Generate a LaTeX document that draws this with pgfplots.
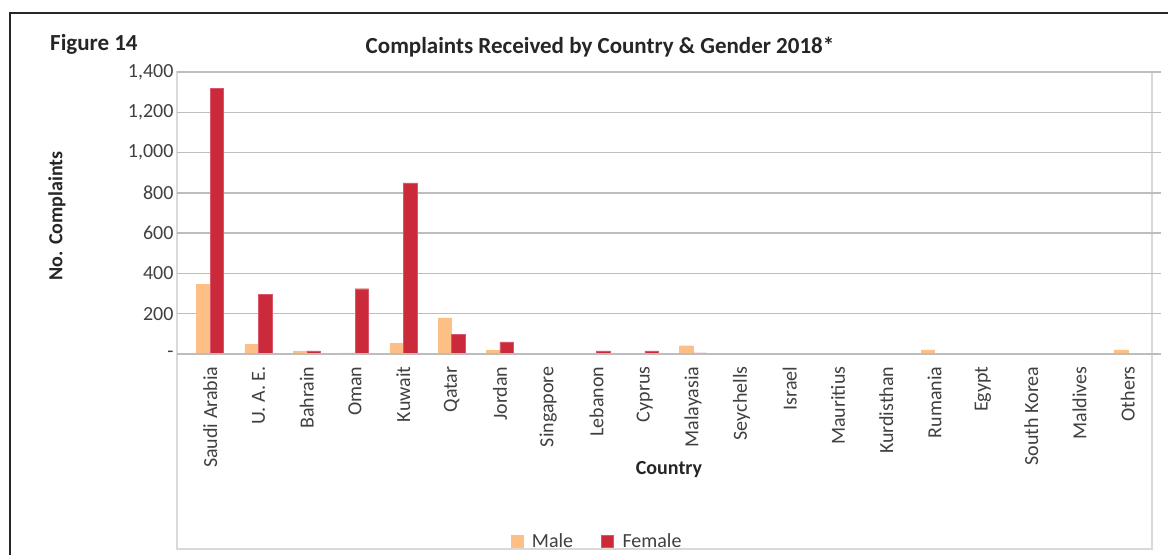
\documentclass[border=0pt]{standalone}
\usepackage{pgfplots}
\pgfplotsset{compat=1.18}
\usepackage{fontspec}
\setmainfont{Carlito}

\definecolor{male}{HTML}{FDBF85}
\definecolor{female}{HTML}{CB2A3A}
\definecolor{femaleedge}{HTML}{D9576A}
\definecolor{txt}{HTML}{404040}
\definecolor{gridc}{HTML}{BDBDBD}
\definecolor{boxc}{HTML}{D9D9D9}

\pgfplotstableread{
x male female
0 345 1320
1 48 295
2 15 15
3 5 324
4 53 850
5 179 96
6 18 60
7 0 0
8 0 15
9 0 15
10 41 6
11 0 0
12 0 0
13 0 0
14 0 0
15 20 0
16 0 0
17 0 0
18 0 0
19 20 0
}\datatable

\begin{document}
\begin{tikzpicture}[x=1pt,y=1pt]
\useasboundingbox (0,0) rectangle (1168,555);
\fill[white] (0,0) rectangle (1168,555);
% outer frame (cropped)
\draw[line width=2.5pt, color=black!85] (10,0) -- (10,542) -- (1168,542);
% chart area box
\draw[line width=1.2pt, color=boxc] (177,6) rectangle (1152,483);
% Figure label and title
\node[anchor=west, font=\fontsize{23}{27}\selectfont\bfseries, text=black!85, inner sep=0pt] at (50,511) {Figure 14};
\node[anchor=center, font=\fontsize{23}{27}\selectfont\bfseries, text=black!85, inner sep=0pt] at (600,508) {Complaints Received by Country \& Gender 2018*};

\begin{axis}[
  at={(186pt,201pt)}, anchor=south west,
  scale only axis, width=966pt, height=282pt,
  xmin=-0.5, xmax=19.5, ymin=0, ymax=1400,
  ybar=0pt, bar width=13.5pt,
  axis line style={draw=none},
  ytick={0,200,...,1400},
  yticklabels={-,200,400,600,800,{1,000},{1,200},{1,400}},
  ymajorgrids, major grid style={color=gridc, line width=1.3pt},
  tick align=outside, major tick length=9pt,
  ytick style={color=gridc, line width=1.3pt},
  xtick={0,...,19},
  xtick style={draw=none},
  minor xtick={-0.5,0.5,...,19.5},
  minor x tick style={color=gridc, line width=1.2pt},
  minor tick length=6pt,
  xticklabels={Saudi Arabia, U. A. E., Bahrain, Oman, Kuwait, Qatar, Jordan, Singapore, Lebanon, Cyprus, Malayasia, Seychells, Israel, Mauritius, Kurdisthan, Rumania, Egypt, South Korea, Maldives, Others},
  xticklabel style={rotate=90, anchor=east, font=\fontsize{20}{24}\selectfont, text=txt},
  yticklabel style={font=\fontsize{20}{24}\selectfont, text=txt},
  xlabel={Country},
  every axis x label/.style={at={(axis description cs:0.5,0)}, anchor=center, yshift=-116pt, font=\fontsize{20}{24}\selectfont\bfseries, text=black!85},
  ylabel={No. Complaints},
  every axis y label/.style={at={(axis description cs:-0.1335,0.49)}, rotate=90, anchor=center, font=\fontsize{20}{24}\selectfont\bfseries, text=black!85},
  legend columns=2,
  legend style={at={(axis description cs:0.4255,-0.663)}, anchor=center, draw=none, fill=none, font=\fontsize{20}{24}\selectfont, text=txt, /tikz/every even column/.append style={column sep=26pt}},
  legend image code/.code={\draw[#1] (0pt,-6pt) rectangle (12pt,6pt); \path (19pt,0pt);},
]
\addplot[fill=male, draw=male] table[x=x, y=male] {\datatable};
\addplot[fill=female, draw=femaleedge] table[x=x, y=female] {\datatable};
\draw[color=gridc, line width=1.3pt] (axis cs:-0.5,0) -- (axis cs:19.5,0);
\legend{Male, Female}
\end{axis}
\end{tikzpicture}
\end{document}
